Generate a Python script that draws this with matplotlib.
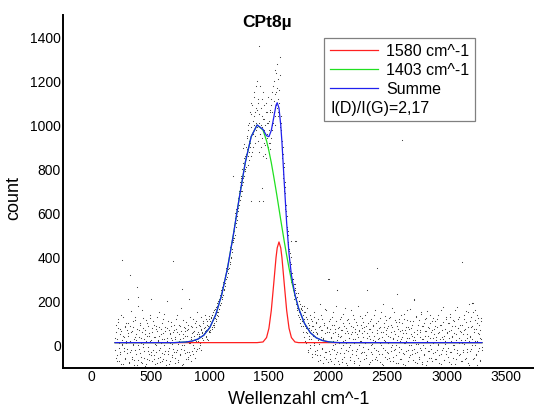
import numpy as np
import matplotlib
matplotlib.use("Agg")
from matplotlib import pyplot as plt
from matplotlib.lines import Line2D

plt.rcParams['font.family'] = ['Liberation Sans', 'DejaVu Sans']

# fitted curves (x in cm^-1, y in counts)
curve_x = [200, 500, 700, 800, 850, 900, 950, 1000, 1050, 1100, 1150, 1200, 1250, 1300, 1350,
           1400, 1450, 1480, 1500, 1520, 1540, 1560, 1570, 1585, 1600, 1610, 1630, 1650, 1670,
           1690, 1720, 1750, 1800, 1850, 1900, 1950, 2000, 2050, 2100, 2500, 3000, 3300]
red_y = [13, 13, 13, 13, 13, 13, 13, 13, 13, 13, 13, 13, 13, 13, 13,
         13, 16, 36, 78, 159, 277, 399, 443, 470, 443, 399, 277, 159, 78,
         36, 16, 13, 13, 13, 13, 13, 13, 13, 13, 13, 13, 13]
green_y = [13, 13, 13, 16, 20, 29, 47, 81, 139, 228, 351, 504, 672, 830, 948,
           1001, 978, 929, 883, 830, 769, 705, 672, 621, 570, 537, 471, 409, 351,
           297, 228, 170, 101, 58, 35, 23, 17, 14, 13, 13, 13, 13]
blue_y = [13, 13, 13, 16, 20, 29, 47, 81, 139, 228, 351, 504, 672, 830, 948,
          1001, 981, 952, 948, 976, 1033, 1091, 1102, 1078, 1000, 923, 735, 555, 416,
          320, 231, 170, 101, 58, 35, 23, 17, 14, 13, 13, 13, 13]

# measured spectrum, first pass: one value every 5 cm^-1 from 200 to 3300
spec_start = 200
spec_step = 5
spec_y = [
    -20, 60, 95, -45, 30, 120, -70, 10, 75, -30, 140, 5, 390, -85, 45, -10, 85, -55, 20, 100,
    -35, 210, 55, -75, 15, 90, 318, -20, 65, -60, 110, 0, -90, 40, 130, -40, 25, 265, 220, -65,
    70, -15, 100, -50, 35, 160, -80, 5, 80, -25, 50, -95, 115, 20, -60, 90, -5, 45, -40, 125,
    210, -30, 60, -70, 15, 95, -45, 40, -85, 75, 0, 130, -55, 25, -20, 85, -75, 50, 10, -35,
    100, -60, 30, 145, -25, 65, -90, 20, 80, -40, 110, -10, 55, -70, 35, 90, -50, 5, 382, -30,
    70, -80, 40, 120, -20, 60, -65, 15, 95, -45, 30, 170, -15, 255, 50, -85, 85, 0, -35, 65,
    105, -30, 45, -60, 75, 210, 10, -45, 90, 30, -25, 60, 120, -10, 45, -55, 85, 20, 150, -15,
    60, -10, 45, 90, 10, 70, -20, 55, 110, 25, 80, 15, 65, 120, 40, 95, 30, 75, 135, 60,
    110, 60, 125, 75, 140, 95, 150, 100, 85, 165, 120, 175, 140, 195, 150, 210, 165, 230, 185, 250,
    210, 265, 230, 290, 255, 310, 270, 335, 300, 360, 330, 385, 350, 410, 380, 445, 400, 470, 440, 510,
    480, 545, 500, 580, 540, 620, 570, 650, 610, 700, 640, 720, 680, 760, 700, 800, 740, 830, 770, 860,
    790, 900, 850, 940, 820, 980, 880, 1010, 920, 860, 1050, 960, 1090, 900, 1000, 1130, 950, 1060, 1180, 980,
    1070, 930, 1120, 1010, 1359, 960, 1080, 900, 1040, 990, 1150, 920, 1030, 870, 1000, 1100, 940, 1060, 900, 1010,
    1020, 890, 1060, 940, 1090, 980, 1150, 1010, 1200, 1060, 1140, 1000, 1235, 1080, 1170, 1040, 1210, 1100, 1309, 1020,
    980, 1040, 890, 870, 780, 810, 700, 720, 620, 610, 540, 530, 460, 470, 400, 420, 340, 370, 290, 330,
    300, 250, 280, 210, 260, 190, 240, 170, 220, 140, 200, 130, 190, 100, 170, 90, 160, 60, 140, 180,
    40, 150, 80, 10, 120, 55, -30, 95, 30, 140, -10, 70, 110, -50, 45, 90, 0, 130, -40, 60,
    100, -20, 50, -70, 85, 15, 190, -45, 70, -10, 120, -80, 35, 95, -30, 55, 160, -60, 20, 80,
    300, -25, 60, 120, -60, 40, 95, -15, 150, 20, -85, 75, 5, 110, -40, 250, 50, -70, 85, 10,
    -35, 130, 45, -75, 70, 0, 100, -50, 170, 25, -20, 80, -90, 55, 120, -5, 35, -65, 90, 15,
    60, -40, 140, 10, -80, 75, 30, -25, 105, 50, -55, 180, 0, 65, -70, 95, 20, -30, 125, 40,
    -60, 85, 15, 140, -45, 55, 253, -15, 100, -85, 30, 75, -30, 120, 5, -65, 90, 45, -10, 160,
    20, -50, 70, 350, -25, 110, 35, -75, 85, 0, 150, -40, 60, -90, 100, 25, -20, 135, 50, -60,
    80, 10, -35, 125, 40, -70, 95, -5, 170, 30, -50, 65, -20, 115, 0, -80, 90, 235, 45, -30,
    105, -60, 20, 140, -15, 70, -85, 55, 120, -40, 10, 85, -25, 160, 35, -70, 75, 0, 110, -45,
    50, -20, 95, 25, -65, 205, 40, -35, 130, 5, -80, 70, 15, 115, -50, 60, -10, 145, 30, -75,
    90, 0, -40, 120, 45, -90, 65, 20, 155, -25, 80, -55, 35, 100, -15, 70, -70, 125, 10, 50,
    -30, 110, 25, -60, 85, 0, 140, -45, 60, 15, -85, 95, 40, -20, 175, 30, -65, 75, 5, 120,
    -40, 55, 100, -10, 65, -75, 130, 20, -30, 90, 45, -55, 110, 0, 160, -85, 50, 15, -20, 80,
    120, -45, 35, 95, -70, 60, 378, 10, -30, 140, 70, -60, 25, 105, -15, 50, 150, -80, 190, 40,
    -25, 85, 130, 195, 0, 195, -55, 75, 20, 160, -40, 100, -90, 55, 125, -10, 70, -65, 30, 110,
    -20,
]
spec_x = [spec_start + spec_step * i for i in range(len(spec_y))]

# second pass, shifted by half a step (202.5 ... 3297.5)
spec2_start = 202.5
spec2_y = [
    35, -55, -70, 15, 80, 105, -10, -40, 50, 65, -85, 25, 0, 130, 40, -25, -60, 90, 10, 70,
    -15, 45, 100, -80, -30, 20, 155, 60, -50, 5, 85, -65, 30, 115, -20, 50, -90, 75, 0, 180,
    40, 95, -35, -75, 10, 60, 125, -5, -55, 30, 70, 15, -85, 45, 100, -25, 55, -65, 20, 140,
    -45, 25, 80, 110, -20, -60, 40, 5, 90, -30, 65, -80, 20, 150, 45, -10, -50, 75, 30, -70,
    55, 120, -40, 0, 85, -65, 15, 200, 35, -25, 70, -85, 50, 10, 105, -45, 25, -15, 60, 95,
    -55, 30, 75, -30, 140, 5, -75, 50, 20, 90, -40, 65, 0, -90, 115, 35, -20, 80, 45, -60,
    20, 70, -50, 95, 10, -30, 130, 40, -70, 55, 85, 0, -40, 65, 100, 25, -25, 110, 50, 15,
    20, 95, 50, 0, 75, 130, 35, 60, 100, 15, 55, 85, 140, 45, 70, 110, 25, 90, 65, 120,
    70, 130, 100, 85, 140, 115, 95, 160, 125, 145, 110, 180, 150, 135, 200, 165, 185, 215, 195, 240,
    245, 220, 280, 250, 295, 320, 285, 350, 310, 340, 375, 345, 400, 370, 430, 395, 455, 425, 490, 470,
    520, 490, 560, 600, 555, 635, 590, 670, 625, 690, 660, 740, 700, 770, 730, 790, 760, 820, 850, 800,
    870, 810, 950, 890, 1000, 840, 930, 1060, 900, 990, 1100, 880, 1020, 960, 1150, 1040, 920, 1080, 1010, 1200,
    990, 1100, 880, 1050, 960, 1180, 1000, 940, 1120, 860, 1030, 980, 1090, 910, 1060, 850, 1010, 960, 1130, 920,
    980, 1070, 920, 1120, 1000, 1060, 1180, 1030, 1110, 1250, 1040, 1150, 1090, 1280, 1120, 1060, 1160, 1050, 1230, 990,
    1010, 930, 850, 900, 760, 830, 690, 740, 640, 580, 590, 500, 520, 430, 440, 380, 400, 330, 300, 280,
    270, 300, 230, 250, 280, 200, 215, 160, 240, 175, 150, 200, 120, 165, 140, 180, 110, 90, 150, 120,
    90, 20, 130, 60, 170, -20, 100, 45, 80, 0, 120, 30, -40, 90, 60, 150, 10, 75, -25, 105,
    55, -45, 120, 25, 5, 90, -65, 40, 140, -15, 70, 30, -50, 100, 20, 165, -30, 60, 85, -75,
    15, 110, -40, 75, 35, -70, 130, 0, 55, -20, 95, 60, -55, 180, 25, -30, 80, 45, -85, 120,
    40, -10, 70, -60, 145, 20, -35, 90, 55, -80, 10, 115, 65, -25, 35, 100, -50, 0, 160, 50,
    -20, 85, 30, -70, 120, 60, -45, 15, 95, -15, 40, 70, -90, 135, 20, -35, 80, 55, -5, 105,
    65, -30, 10, 90, -55, 150, 35, -15, 75, 45, -75, 110, 0, 60, -40, 95, 25, 140, -60, 20,
    100, -20, 55, -65, 30, 80, -40, 125, 10, 60, -85, 40, 190, -10, 85, 20, -50, 70, 115, -30,
    45, 90, -55, 15, 130, -25, 60, 0, 85, -70, 35, 150, -15, 50, 105, -45, 25, 75, -80, 120,
    -5, 65, 30, -60, 100, 40, -35, 145, 10, 70, -90, 55, 20, 115, -20, 85, -50, 35, 165, 0,
    80, -40, 45, 110, -15, 60, -75, 25, 135, 50, -30, 95, 5, -60, 70, 40, 150, -20, 90, -85,
    30, 100, -45, 65, -10, 125, 20, -70, 85, 45, -25, 140, 0, 60, -55, 110, 35, -35, 75, 15,
    90, -60, 40, 120, -20, 55, 5, -80, 95, 30, 160, -40, 70, -10, 105, 45, -65, 20, 130, -25,
    60, 15, -50, 100, 35, -30, 145, 70, -85, 40, 0, 115, -15, 55, 90, -60, 25, 175, -35, 80,
    10, 130, -40, 65, 25, -70, 95, 50, -20, 120, 5, 75, -55, 155, 35, -30, 85, 20, -90, 110,
    45, -15, 90, 30, -60, 150, 60, 0, 115, -45, 75, 20, 140, -25, 50, 95, -70, 35, 125, -5,
]
spec2_x = [spec2_start + spec_step * i for i in range(len(spec2_y))]

# single points that stand apart from the band
extra_x = [2626, 1347, 1439, 1448, 1725, 1717, 1288, 1280, 1321, 1195, 1414, 1683, 2004, 2079, 2727, 3216]
extra_y = [933, 656, 715, 656, 475, 476, 915, 897, 860, 770, 656, 476, 300, 250, 210, 195]

fig = plt.figure(figsize=(5.34, 4.07), dpi=100)
ax = fig.add_axes([0.118, 0.097, 0.882, 0.866])

dot = dict(linestyle='none', marker='.', markersize=1.6, color='#333333', markeredgewidth=0)
ax.plot(spec_x, spec_y, **dot)
ax.plot(spec2_x, spec2_y, **dot)
ax.plot(extra_x, extra_y, **dot)

h_red, = ax.plot(curve_x, red_y, color='#ff2020', lw=0.9)
h_green, = ax.plot(curve_x, green_y, color='#20e020', lw=0.9)
h_blue, = ax.plot(curve_x, blue_y, color='#2020ee', lw=0.9)

ax.set_xlim(-240, 3740)
ax.set_ylim(-100, 1500)
ax.set_xticks(range(0, 3501, 500))
ax.set_yticks(range(0, 1401, 200))
ax.tick_params(length=0, labelsize=10, pad=1.5)
for s in ['top', 'right']:
    ax.spines[s].set_visible(False)
for s in ['left', 'bottom']:
    ax.spines[s].set_linewidth(1.4)

ax.set_xlabel('Wellenzahl cm^-1', fontsize=13)
ax.xaxis.set_label_coords(0.5, -0.066)
ax.set_ylabel('count', fontsize=13)
ax.yaxis.set_label_coords(-0.087, 0.48)

fig.text(0.5, 1 - 22 / 407, 'CPt8µ', ha='center', va='center', fontsize=12.5, fontweight='bold')

leg = ax.legend([h_red, h_green, h_blue, Line2D([], [], color='none')],
                ['1580 cm^-1', '1403 cm^-1', 'Summe', ' '],
                loc='upper left', bbox_to_anchor=(0.555, 0.935), fontsize=11.5,
                fancybox=False, framealpha=1, edgecolor='#808080',
                handlelength=3.0, handletextpad=0.5, labelspacing=0.25,
                borderpad=0.35, borderaxespad=0)
leg.get_frame().set_linewidth(0.9)

# the ratio line sits in the legend without a handle
fig.canvas.draw()
r = fig.canvas.get_renderer()
lb = leg.get_lines()[0].get_window_extent(r)
t1 = leg.get_texts()[1].get_window_extent(r)
t2 = leg.get_texts()[2].get_window_extent(r)
yc = (t2.y0 + t2.y1) / 2 - ((t1.y0 + t1.y1) / 2 - (t2.y0 + t2.y1) / 2)
fig.text(lb.x0 / fig.bbox.width, yc / fig.bbox.height, 'I(D)/I(G)=2,17',
         ha='left', va='center', fontsize=11.5)

fig.savefig('out.png', dpi=100)
